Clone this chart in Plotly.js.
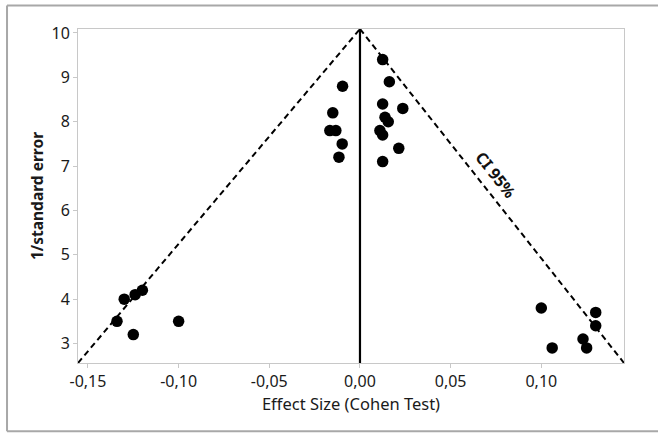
<!DOCTYPE html>
<html>
<head>
<meta charset="utf-8">
<script src="https://cdn.plot.ly/plotly-3.0.1.min.js"></script>
<style>
html,body{margin:0;padding:0;background:#fff;}
#chart{width:658px;height:433px;}
</style>
</head>
<body>
<div id="chart"></div>
<script>
// Study effect sizes (Cohen) and precision (1/standard error)
var effectSize = [-0.130, -0.124, -0.120, -0.134, -0.125, -0.100,
                  -0.0096, -0.015, -0.0166, -0.0133, -0.0098, -0.0116,
                  0.0125, 0.0162, 0.0125, 0.0236, 0.0138, 0.0156, 0.0110, 0.0125, 0.0214, 0.0125,
                  0.100, 0.130, 0.130, 0.123, 0.106, 0.125];
var precision  = [4.0, 4.1, 4.2, 3.5, 3.2, 3.5,
                  8.8, 8.2, 7.8, 7.8, 7.5, 7.2,
                  9.4, 8.9, 8.4, 8.3, 8.1, 8.0, 7.8, 7.7, 7.4, 7.1,
                  3.8, 3.7, 3.4, 3.1, 2.9, 2.9];
// 95% CI funnel boundaries and centre line
var ciLeftX  = [-0.1555, 0];
var ciLeftY  = [2.56, 10.09];
var ciRightX = [0, 0.1456];
var ciRightY = [10.09, 2.56];
var centerX  = [0, 0];
var centerY  = [2.56, 10.09];
// Tick labels
var xTickVals = [-0.15, -0.10, -0.05, 0, 0.05, 0.10];
var xTickText = ['-0,15', '-0,10', '-0,05', '0,00', '0,05', '0,10'];
var yTickVals = [3, 4, 5, 6, 7, 8, 9, 10];
var yTickText = ['3', '4', '5', '6', '7', '8', '9', '10'];

var font = 'Noto Sans, Open Sans, sans-serif';

var traces = [
  {x: ciLeftX, y: ciLeftY, mode: 'lines', line: {color: '#000', width: 2, dash: '6px,4px'}, hoverinfo: 'skip'},
  {x: ciRightX, y: ciRightY, mode: 'lines', line: {color: '#000', width: 2, dash: '6px,4px'}, hoverinfo: 'skip'},
  {x: centerX, y: centerY, mode: 'lines', line: {color: '#000', width: 2.2}, hoverinfo: 'skip'},
  {x: effectSize, y: precision, mode: 'markers', marker: {color: '#000', size: 11.5}}
];

var layout = {
  width: 658, height: 433,
  margin: {l: 78, r: 34, t: 29, b: 70},
  paper_bgcolor: '#fff', plot_bgcolor: '#fff',
  showlegend: false,
  font: {family: font, color: '#1a1a1a', size: 16},
  xaxis: {
    range: [-0.1555, 0.1456], tickvals: xTickVals, ticktext: xTickText,
    showgrid: false, zeroline: false, showline: true, mirror: true,
    linecolor: '#c8c8c8', linewidth: 1, ticks: 'outside', ticklen: 4, tickcolor: '#c8c8c8',
    tickfont: {size: 16, color: '#1a1a1a'},
    title: {text: 'Effect Size (Cohen Test)', font: {size: 16.5, color: '#1a1a1a'}, standoff: 1}
  },
  yaxis: {
    range: [2.56, 10.09], tickvals: yTickVals, ticktext: yTickText,
    showgrid: false, zeroline: false, showline: true, mirror: true,
    linecolor: '#c8c8c8', linewidth: 1, ticks: 'outside', ticklen: 4, tickcolor: '#c8c8c8',
    tickfont: {size: 16, color: '#1a1a1a'},
    title: {text: '<b>1/standard error</b>', font: {size: 15.5, color: '#1a1a1a'}, standoff: 4}
  },
  annotations: [{
    x: 0.075, y: 6.8, xref: 'x', yref: 'y', text: '<b>CI 95%</b>', showarrow: false,
    textangle: 52, font: {size: 16, color: '#111', family: font}
  }],
  shapes: [
    {type: 'line', xref: 'paper', yref: 'paper', x0: -0.130, x1: 1.1, y0: 1.0706, y1: 1.0706, line: {color: '#a8a8a8', width: 2}},
    {type: 'line', xref: 'paper', yref: 'paper', x0: -0.130, x1: 1.1, y0: -0.204, y1: -0.204, line: {color: '#a8a8a8', width: 2}},
    {type: 'line', xref: 'paper', yref: 'paper', x0: -0.130, x1: -0.130, y0: -0.204, y1: 1.0706, line: {color: '#a8a8a8', width: 2}}
  ]
};

Plotly.newPlot('chart', traces, layout, {displayModeBar: false, staticPlot: true});
</script>
</body>
</html>
